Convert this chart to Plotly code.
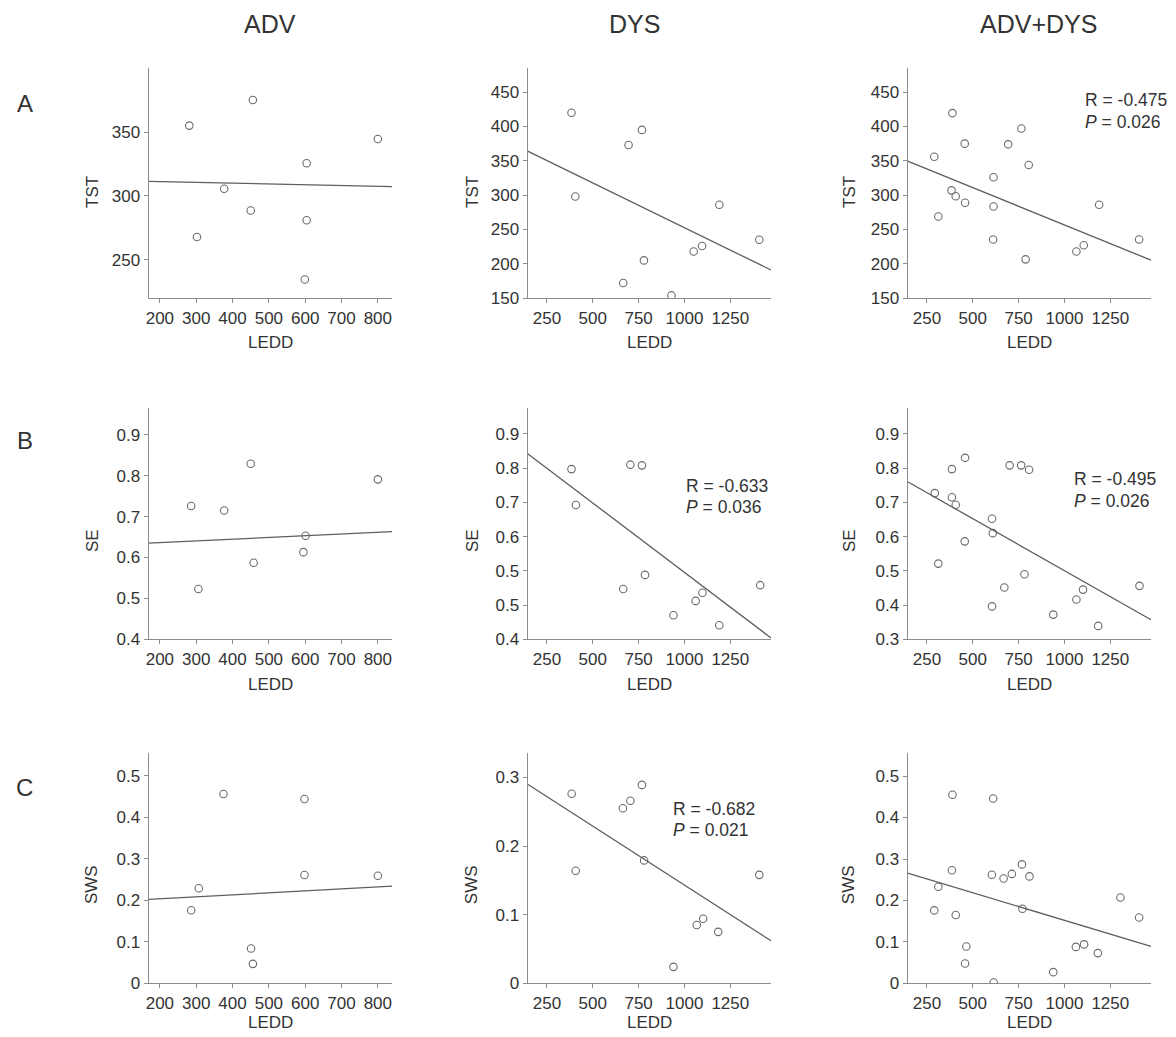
import plotly.graph_objects as go
from plotly.subplots import make_subplots

# the page body has an 8 px margin; positions below are given in page pixels
PAGE_W, OFF = 1176, 8
W, H = PAGE_W - 2 * OFF, 1029
SY = 0.99   # vertical calibration of the captured page

# ---------------- data ----------------
groups = ["ADV", "DYS", "ADV+DYS"]
row_letters = ["A", "B", "C"]
measures = ["TST", "SE", "SWS"]

# ADV
adv_tst_ledd = [281, 456, 800, 604, 377, 450, 604, 302, 599]
adv_tst = [355, 375, 344.5, 325.5, 305.6, 288.6, 281, 267.8, 234.6]
adv_se_ledd = [286, 306, 377, 450, 458, 595, 601, 800]
adv_se = [0.726, 0.523, 0.715, 0.829, 0.587, 0.613, 0.653, 0.791]
adv_sws_ledd = [286, 307, 375, 451, 456, 598, 598, 800]
adv_sws = [0.176, 0.229, 0.456, 0.084, 0.047, 0.444, 0.261, 0.259]
adv_fit_ledd = [169, 839]
adv_tst_fit = [311.4, 307.2]
adv_se_fit = [0.635, 0.663]
adv_sws_fit = [0.202, 0.234]

# DYS
dys_tst_ledd = [384, 695, 768, 405, 1190, 1408, 1050, 1096, 779, 666, 929]
dys_tst = [420, 373, 395, 298, 286, 235, 218, 226, 205, 172, 154]
dys_se_ledd = [384, 408, 705, 768, 785, 666, 1098, 1061, 940, 1190, 1413]
dys_se = [0.797, 0.692, 0.810, 0.808, 0.488, 0.447, 0.436, 0.412, 0.370, 0.341, 0.458]
dys_sws_ledd = [385, 407, 664, 705, 768, 780, 1067, 1102, 1184, 1408, 940]
dys_sws = [0.276, 0.164, 0.255, 0.266, 0.289, 0.179, 0.085, 0.094, 0.075, 0.158, 0.024]
dys_fit_ledd = [145, 1472]
dys_tst_fit = [364, 191]
dys_se_fit = [0.842, 0.304]
dys_sws_fit = [0.290, 0.062]

# ADV+DYS
all_tst_ledd = [389, 290, 456, 765, 693, 805, 613, 384, 407, 458, 613, 312, 611, 788,
                1065, 1105, 1189, 1407]
all_tst = [419.5, 356, 375, 397, 374, 344, 326, 307, 298.5, 289, 283.5, 269, 235.5, 206.5,
           218, 227, 286, 235.5]
all_se_ledd = [293, 312, 386, 458, 386, 407, 456, 605, 609, 605, 701, 764, 807, 672, 782,
               939, 1065, 1101, 1184, 1409]
all_se = [0.727, 0.521, 0.797, 0.830, 0.715, 0.693, 0.586, 0.652, 0.610, 0.396, 0.808, 0.808,
          0.795, 0.451, 0.490, 0.372, 0.416, 0.445, 0.339, 0.456]
all_sws_ledd = [290, 312, 386, 389, 407, 465, 458, 611, 604, 614, 668, 713, 768, 809, 771,
                939, 1062, 1107, 1182, 1305, 1407]
all_sws = [0.176, 0.233, 0.273, 0.455, 0.165, 0.089, 0.048, 0.446, 0.262, 0.002, 0.253, 0.264,
           0.287, 0.258, 0.180, 0.027, 0.088, 0.094, 0.073, 0.207, 0.159]
all_fit_ledd = [145, 1472]
all_tst_fit = [349.5, 205.3]
all_se_fit = [0.760, 0.357]
all_sws_fit = [0.266, 0.089]

# ticks
adv_ledd_ticks = [200, 300, 400, 500, 600, 700, 800]
dys_ledd_ticks = [250, 500, 750, 1000, 1250]
adv_tst_ticks = [250, 300, 350]
dys_tst_ticks = [150, 200, 250, 300, 350, 400, 450]
adv_se_ticks = [0.4, 0.5, 0.6, 0.7, 0.8, 0.9]
adv_se_labels = ["0.4", "0.5", "0.6", "0.7", "0.8", "0.9"]
dys_se_ticks = [0.3, 0.4, 0.5, 0.6, 0.7, 0.8, 0.9]
dys_se_labels = ["0.4", "0.5", "0.5", "0.6", "0.7", "0.8", "0.9"]   # as printed in the figure
all_se_labels = ["0.3", "0.4", "0.5", "0.6", "0.7", "0.8", "0.9"]
sws5_ticks = [0, 0.1, 0.2, 0.3, 0.4, 0.5]
sws5_labels = ["0", "0.1", "0.2", "0.3", "0.4", "0.5"]
sws3_ticks = [0, 0.1, 0.2, 0.3]
sws3_labels = ["0", "0.1", "0.2", "0.3"]

# statistics shown
stats = {
    (1, 1): ("-0.633", "0.036"),
    (2, 1): ("-0.682", "0.021"),
    (0, 2): ("-0.475", "0.026"),
    (1, 2): ("-0.495", "0.026"),
}

# ---------------- panel definitions ----------------
panels = {
    (0, 0): dict(x=adv_tst_ledd, y=adv_tst, fx=adv_fit_ledd, fy=adv_tst_fit,
                 xr=[169, 839], yr=[220, 400], xt=adv_ledd_ticks,
                 yt=adv_tst_ticks, yl=[str(v) for v in adv_tst_ticks]),
    (0, 1): dict(x=dys_tst_ledd, y=dys_tst, fx=dys_fit_ledd, fy=dys_tst_fit,
                 xr=[145, 1472], yr=[150, 485], xt=dys_ledd_ticks,
                 yt=dys_tst_ticks, yl=[str(v) for v in dys_tst_ticks]),
    (0, 2): dict(x=all_tst_ledd, y=all_tst, fx=all_fit_ledd, fy=all_tst_fit,
                 xr=[145, 1472], yr=[150, 485], xt=dys_ledd_ticks,
                 yt=dys_tst_ticks, yl=[str(v) for v in dys_tst_ticks]),
    (1, 0): dict(x=adv_se_ledd, y=adv_se, fx=adv_fit_ledd, fy=adv_se_fit,
                 xr=[169, 839], yr=[0.4, 0.965], xt=adv_ledd_ticks,
                 yt=adv_se_ticks, yl=adv_se_labels),
    (1, 1): dict(x=dys_se_ledd, y=dys_se, fx=dys_fit_ledd, fy=dys_se_fit,
                 xr=[145, 1472], yr=[0.3, 0.975], xt=dys_ledd_ticks,
                 yt=dys_se_ticks, yl=dys_se_labels),
    (1, 2): dict(x=all_se_ledd, y=all_se, fx=all_fit_ledd, fy=all_se_fit,
                 xr=[145, 1472], yr=[0.3, 0.975], xt=dys_ledd_ticks,
                 yt=dys_se_ticks, yl=all_se_labels),
    (2, 0): dict(x=adv_sws_ledd, y=adv_sws, fx=adv_fit_ledd, fy=adv_sws_fit,
                 xr=[169, 839], yr=[0, 0.554], xt=adv_ledd_ticks,
                 yt=sws5_ticks, yl=sws5_labels),
    (2, 1): dict(x=dys_sws_ledd, y=dys_sws, fx=dys_fit_ledd, fy=dys_sws_fit,
                 xr=[145, 1472], yr=[0, 0.335], xt=dys_ledd_ticks,
                 yt=sws3_ticks, yl=sws3_labels),
    (2, 2): dict(x=all_sws_ledd, y=all_sws, fx=all_fit_ledd, fy=all_sws_fit,
                 xr=[145, 1472], yr=[0, 0.555], xt=dys_ledd_ticks,
                 yt=sws5_ticks, yl=sws5_labels),
}

# ---------------- layout geometry (page pixels) ----------------
col_px = [(146, 390), (526, 770), (907, 1151)]
row_px = [(68, 298), (408, 639), (753, 983)]
ytitle_x = [89, 470, 848]
ytitle_y = [192, 540, 884]
xtitle_y = [342, 684, 1022]
col_title_x = [268, 633, 1038]
row_label_y = [103, 440, 787]


def fx(p):
    return (p - OFF) / W


def fy(p):
    return 1 - (p / SY - OFF) / H


FONT = "Liberation Sans, Arial, sans-serif"
AX = "#8c8c8c"
TXT = "#333333"
MK = "#6a6a6a"

fig = make_subplots(rows=3, cols=3)

annotations = []
for (r, c), p in panels.items():
    fig.add_trace(go.Scatter(x=p["x"], y=p["y"], mode="markers",
                             marker=dict(symbol="circle-open", size=7.5,
                                         color=MK, line=dict(width=1.1, color=MK)),
                             showlegend=False, hoverinfo="x+y"),
                  row=r + 1, col=c + 1)
    fig.add_trace(go.Scatter(x=p["fx"], y=p["fy"], mode="lines",
                             line=dict(color="#5e5e5e", width=1.3),
                             showlegend=False, hoverinfo="skip"),
                  row=r + 1, col=c + 1)
    n = r * 3 + c + 1
    suf = "" if n == 1 else str(n)
    x0, x1 = col_px[c]
    y0, y1 = row_px[r]
    common = dict(showline=True, linecolor=AX, linewidth=1.2, ticks="outside",
                  ticklen=4, tickwidth=1, tickcolor=AX, showgrid=False,
                  zeroline=False, tickangle=0,
                  tickfont=dict(family=FONT, size=17, color=TXT))
    fig.update_layout({
        "xaxis" + suf: dict(domain=[fx(x0), fx(x1)], range=p["xr"],
                            tickmode="array", tickvals=p["xt"],
                            ticktext=[str(v) for v in p["xt"]], **common),
        "yaxis" + suf: dict(domain=[fy(y1), fy(y0)], range=p["yr"],
                            tickmode="array", tickvals=p["yt"],
                            ticktext=p["yl"], **common),
    })
    # axis titles
    annotations.append(dict(text=measures[r], x=fx(ytitle_x[c]), y=fy(ytitle_y[r]),
                            xref="paper", yref="paper", showarrow=False,
                            textangle=-90, xanchor="center", yanchor="middle",
                            font=dict(family=FONT, size=17, color=TXT)))
    annotations.append(dict(text="LEDD", x=fx((x0 + x1) / 2), y=fy(xtitle_y[r]),
                            xref="paper", yref="paper", showarrow=False,
                            xanchor="center", yanchor="middle",
                            font=dict(family=FONT, size=17, color=TXT)))

# statistics annotations
stat_pos = {
    (1, 1): (683, 486, 507),
    (2, 1): (670, 809, 830),
    (0, 2): (1083, 100, 122),
    (1, 2): (1072, 479, 501),
}
for key, (rv, pv) in stats.items():
    xl, yr_, yp_ = stat_pos[key]
    annotations.append(dict(text="R = " + rv, x=fx(xl), y=fy(yr_), xref="paper",
                            yref="paper", showarrow=False, xanchor="left",
                            yanchor="middle",
                            font=dict(family=FONT, size=17.5, color=TXT)))
    annotations.append(dict(text="<i>P</i> = " + pv, x=fx(xl), y=fy(yp_), xref="paper",
                            yref="paper", showarrow=False, xanchor="left",
                            yanchor="middle",
                            font=dict(family=FONT, size=17.5, color=TXT)))

# column titles and row letters
for c, g in enumerate(groups):
    annotations.append(dict(text=g, x=fx(col_title_x[c]), y=fy(24), xref="paper",
                            yref="paper", showarrow=False, xanchor="center",
                            yanchor="middle", font=dict(family=FONT, size=25, color=TXT)))
for r, L in enumerate(row_letters):
    annotations.append(dict(text=L, x=fx(22), y=fy(row_label_y[r]), xref="paper",
                            yref="paper", showarrow=False, xanchor="center",
                            yanchor="middle", font=dict(family=FONT, size=24, color=TXT)))

fig.update_layout(width=W, height=H, margin=dict(l=0, r=0, t=0, b=0),
                  paper_bgcolor="white", plot_bgcolor="white",
                  annotations=annotations, font=dict(family=FONT, color=TXT))

fig.write_html("out.html", config={"displayModeBar": False})
